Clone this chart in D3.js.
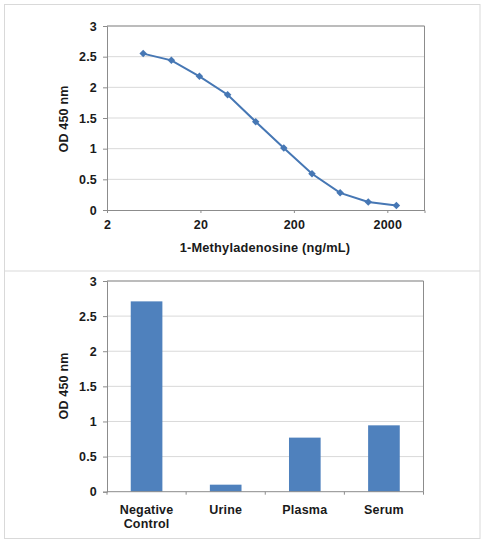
<!DOCTYPE html>
<html>
<head>
<meta charset="utf-8">
<script src="https://cdn.jsdelivr.net/npm/d3@7"></script>
<style>
  body { margin: 0; background: #fff; }
  text { font-family: "Liberation Sans", Arial, sans-serif; font-weight: bold; fill: #1a1a1a; letter-spacing: 0.2px; }
</style>
</head>
<body>
<div id="chart"></div>
<script>
  // standard curve: 1-methyladenosine (ng/mL) vs OD 450
  var concentrations = [4.88, 9.77, 19.5, 39.1, 78.1, 156, 312.5, 625, 1250, 2500];
  var odStandard = [2.55, 2.44, 2.18, 1.88, 1.44, 1.01, 0.59, 0.28, 0.13, 0.075];
  var xTicks = [2, 20, 200, 2000];
  var yTicks = [0, 0.5, 1, 1.5, 2, 2.5, 3];

  // sample panel
  var samples = ["Negative Control", "Urine", "Plasma", "Serum"];
  var sampleOD = [2.71, 0.10, 0.77, 0.945];

  var width = 486, height = 544;
  var blue = "#4677b4", barBlue = "#4f81bd";
  var gridCol = "#d9d9d9", axisCol = "#8c8c8c";
  var fs = "12.5px";

  var svg = d3.select("#chart")
    .append("svg")
      .attr("width", width)
      .attr("height", height);

  // outer frame and divider between the two panels
  svg.append("rect")
      .attr("x", 4.5).attr("y", 4.5)
      .attr("width", 475.5).attr("height", 534)
      .attr("fill", "none").attr("stroke", gridCol);
  svg.append("line")
      .attr("x1", 4.5).attr("x2", 480)
      .attr("y1", 271).attr("y2", 271)
      .attr("stroke", gridCol);

  // ---------- top panel: line chart, log x ----------
  var x1 = d3.scaleLog().domain([2, 5000]).range([107, 424.5]);
  var y1 = d3.scaleLinear().domain([0, 3]).range([210, 26]);

  var gTop = svg.append("g");

  gTop.append("g")
    .selectAll("line")
    .data(yTicks.slice(1))
    .enter().append("line")
      .attr("x1", x1.range()[0]).attr("x2", x1.range()[1])
      .attr("y1", function(d) { return y1(d); })
      .attr("y2", function(d) { return y1(d); })
      .attr("stroke", gridCol);

  // plot area border (top / right)
  gTop.append("path")
      .attr("d", "M" + x1.range()[0] + "," + y1(3) + "H" + x1.range()[1] + "V" + y1(0))
      .attr("fill", "none").attr("stroke", axisCol);

  var yAx1 = gTop.append("g")
      .attr("transform", "translate(" + x1.range()[0] + ",0)")
      .call(d3.axisLeft(y1).tickValues(yTicks).tickSize(4).tickPadding(6).tickFormat(d3.format("")));
  var xAx1 = gTop.append("g")
      .attr("transform", "translate(0," + y1(0) + ")")
      .call(d3.axisBottom(x1).tickValues(xTicks).tickSize(3).tickPadding(7).tickFormat(d3.format("")));

  [yAx1, xAx1].forEach(function(a) {
    a.select(".domain").attr("stroke", axisCol);
    a.selectAll(".tick line").attr("stroke", axisCol);
    a.selectAll("text").style("font-size", fs).attr("fill", "#1a1a1a");
  });

  var pts = concentrations.map(function(c, i) { return [c, odStandard[i]]; });

  gTop.append("path")
      .datum(pts)
      .attr("fill", "none")
      .attr("stroke", blue)
      .attr("stroke-width", 2)
      .attr("d", d3.line()
        .x(function(d) { return x1(d[0]); })
        .y(function(d) { return y1(d[1]); }));

  gTop.append("g")
    .selectAll("path")
    .data(pts)
    .enter().append("path")
      .attr("d", d3.symbol(d3.symbolSquare).size(28))
      .attr("transform", function(d) { return "translate(" + x1(d[0]) + "," + y1(d[1]) + ") rotate(45)"; })
      .attr("fill", blue);

  gTop.append("text")
      .attr("x", 265).attr("y", 252)
      .attr("text-anchor", "middle")
      .style("font-size", "12.8px")
      .text("1-Methyladenosine (ng/mL)");

  gTop.append("text")
      .attr("transform", "translate(68,119) rotate(-90)")
      .attr("text-anchor", "middle")
      .style("font-size", fs)
      .text("OD 450 nm");

  // ---------- bottom panel: bar chart ----------
  var x2 = d3.scaleBand().domain(samples).range([107, 423.5]).paddingInner(0.6).paddingOuter(0.3);
  var y2 = d3.scaleLinear().domain([0, 3]).range([491.7, 281]);

  var gBot = svg.append("g");

  gBot.append("g")
    .selectAll("line")
    .data(yTicks.slice(1))
    .enter().append("line")
      .attr("x1", 107).attr("x2", 423.5)
      .attr("y1", function(d) { return y2(d); })
      .attr("y2", function(d) { return y2(d); })
      .attr("stroke", gridCol);

  gBot.append("path")
      .attr("d", "M107," + y2(3) + "H423.5V" + y2(0))
      .attr("fill", "none").attr("stroke", axisCol);

  gBot.append("g")
    .selectAll("rect")
    .data(samples)
    .enter().append("rect")
      .attr("x", function(d) { return x2(d); })
      .attr("width", x2.bandwidth())
      .attr("y", function(d, i) { return y2(sampleOD[i]); })
      .attr("height", function(d, i) { return y2(0) - y2(sampleOD[i]); })
      .attr("fill", barBlue);

  var yAx2 = gBot.append("g")
      .attr("transform", "translate(107,0)")
      .call(d3.axisLeft(y2).tickValues(yTicks).tickSize(4).tickPadding(6).tickFormat(d3.format("")));
  yAx2.select(".domain").attr("stroke", axisCol);
  yAx2.selectAll(".tick line").attr("stroke", axisCol);
  yAx2.selectAll("text").style("font-size", fs).attr("fill", "#1a1a1a");

  // x axis line with ticks at category boundaries
  var step = (423.5 - 107) / samples.length;
  gBot.append("line")
      .attr("x1", 107).attr("x2", 423.5)
      .attr("y1", y2(0)).attr("y2", y2(0))
      .attr("stroke", axisCol);
  gBot.append("g")
    .selectAll("line")
    .data(d3.range(samples.length + 1))
    .enter().append("line")
      .attr("x1", function(i) { return 107 + i * step; })
      .attr("x2", function(i) { return 107 + i * step; })
      .attr("y1", y2(0)).attr("y2", y2(0) + 3)
      .attr("stroke", axisCol);

  var labels = gBot.append("g")
    .selectAll("text")
    .data(samples)
    .enter().append("text")
      .attr("text-anchor", "middle")
      .attr("x", function(d) { return x2(d) + x2.bandwidth() / 2; })
      .attr("y", 514)
      .style("font-size", fs);
  labels.each(function(d) {
    var words = d.split(" ");
    var t = d3.select(this);
    words.forEach(function(w, i) {
      t.append("tspan")
        .attr("x", t.attr("x"))
        .attr("dy", i === 0 ? 0 : 13.5)
        .text(w);
    });
  });

  gBot.append("text")
      .attr("transform", "translate(67.5,386) rotate(-90)")
      .attr("text-anchor", "middle")
      .style("font-size", fs)
      .text("OD 450 nm");
</script>
</body>
</html>
